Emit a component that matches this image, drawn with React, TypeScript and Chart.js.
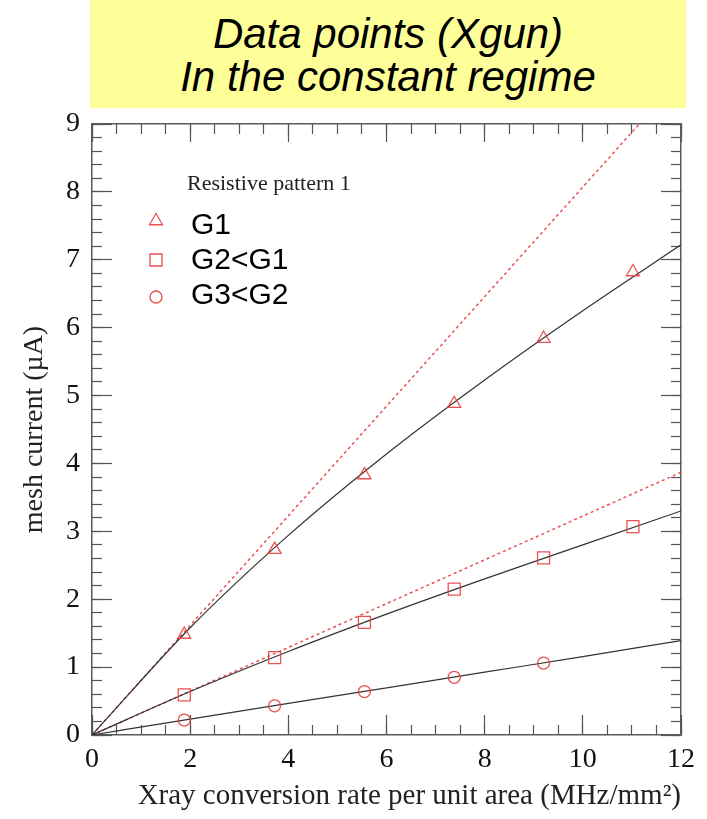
import React, { useEffect, useRef } from 'react';
import { Chart, registerables } from 'chart.js';

Chart.register(...registerables);

// ---- data ----
const xRate = [1.88, 3.72, 5.55, 7.38, 9.2, 11.02];
const g1Current = [1.48, 2.73, 3.83, 4.88, 5.84, 6.82];
const g2Current = [0.59, 1.14, 1.66, 2.15, 2.61, 3.07];
const g3Current = [0.22, 0.43, 0.64, 0.85, 1.06];

const fitX = [0, 2, 4, 6, 8, 10, 12];
const g1Fit = [0, 1.58, 2.94, 4.14, 5.23, 6.25, 7.22];
const g2Fit = [0, 0.64, 1.23, 1.78, 2.3, 2.8, 3.3];
const g3Fit = [0, 0.235, 0.465, 0.695, 0.925, 1.155, 1.39];

const idealG1X = [0, 11.15];
const idealG1Y = [0, 9];
const idealG2X = [0, 12];
const idealG2Y = [0, 3.87];

const legendHeading = 'Resistive pattern 1';
const legendLabels = ['G1', 'G2<G1', 'G3<G2'];
const legendShapes = ['triangle', 'rect', 'circle'];

const titleLines = ['Data points (Xgun)', 'In the constant regime'];
const xTitle = 'Xray conversion rate per unit area (MHz/mm²)';
const yTitle = 'mesh current (µA)';

const xMin = 0, xMax = 12, xMajor = 2, xMinor = 0.5;
const yMin = 0, yMax = 9, yMajor = 1, yMinor = 0.2;

const RED = 'rgba(232,62,62,0.9)';
const FRAME = '#5a5a5a';
const TICK = '#555';

const pts = (xs: number[], ys: number[]) => ys.map((y, i) => ({ x: xs[i], y }));

function drawMarker(ctx: CanvasRenderingContext2D, shape: string, x: number, y: number) {
  ctx.beginPath();
  if (shape === 'triangle') {
    const r = 7.5;
    ctx.moveTo(x, y - r);
    ctx.lineTo(x + r * Math.sin(Math.PI / 3), y + r / 2);
    ctx.lineTo(x - r * Math.sin(Math.PI / 3), y + r / 2);
    ctx.closePath();
  } else if (shape === 'rect') {
    ctx.rect(x - 6, y - 6, 12, 12);
  } else {
    ctx.arc(x, y, 6, 0, Math.PI * 2);
  }
  ctx.stroke();
}

const legendPlugin = {
  id: 'patternLegend',
  afterDraw(chart: any) {
    const ctx: CanvasRenderingContext2D = chart.ctx;
    ctx.save();
    ctx.fillStyle = '#222';
    ctx.font = '22px "Liberation Serif"';
    ctx.textBaseline = 'alphabetic';
    ctx.textAlign = 'left';
    ctx.fillText(legendHeading, 187, 190);
    const markerY = [221, 260, 297];
    const textY = [226, 261, 296];
    ctx.strokeStyle = RED;
    ctx.lineWidth = 1.3;
    ctx.font = '30px "Liberation Sans"';
    ctx.fillStyle = '#000';
    ctx.textBaseline = 'middle';
    legendLabels.forEach((label, i) => {
      drawMarker(ctx, legendShapes[i], 156, markerY[i]);
      ctx.fillText(label, 191, textY[i]);
    });
    ctx.restore();
  },
};

const serif = (size: number) => ({ family: 'Liberation Serif', size });

function axis(position: string, axisName: string, min: number, max: number, step: number, tickLen: number, weight: number, size: number, extra: any = {}) {
  const horizontal = axisName === 'x';
  return {
    type: 'linear',
    axis: axisName,
    position,
    min,
    max,
    weight,
    ticks: { stepSize: step, display: false, ...(extra.ticks || {}) },
    grid: {
      drawOnChartArea: false,
      drawTicks: tickLen !== 0,
      tickLength: tickLen,
      tickColor: TICK,
      tickWidth: 1.2,
    },
    border: extra.border || { display: false },
    title: extra.title || { display: false },
    afterFit: (s: any) => {
      if (horizontal) s.height = size;
      else s.width = size;
    },
  };
}

export default function App() {
  const ref = useRef<HTMLCanvasElement | null>(null);

  useEffect(() => {
    if (!ref.current) return;
    const frameBorder = { display: true, color: FRAME, width: 1.5 };
    const markerBase = {
      pointBorderColor: RED,
      pointBackgroundColor: 'rgba(0,0,0,0)',
      pointBorderWidth: 1.3,
      xAxisID: 'x',
      yAxisID: 'y',
    };
    const chart = new Chart(ref.current, {
      type: 'scatter',
      data: {
        datasets: [
          { label: 'G1', data: pts(xRate, g1Current), pointStyle: 'triangle', pointRadius: 7.5, ...markerBase },
          { label: 'G2<G1', data: pts(xRate, g2Current), pointStyle: 'rect', pointRadius: 8.5, ...markerBase },
          { label: 'G3<G2', data: pts(xRate, g3Current), pointStyle: 'circle', pointRadius: 6, ...markerBase },
          ...[g1Fit, g2Fit, g3Fit].map((f, i) => ({
            label: 'fit ' + (i + 1),
            data: pts(fitX, f),
            showLine: true,
            pointRadius: 0,
            borderColor: '#333',
            borderWidth: 1.2,
            cubicInterpolationMode: 'monotone' as const,
            xAxisID: 'x',
            yAxisID: 'y',
          })),
          {
            label: 'ideal G1',
            data: pts(idealG1X, idealG1Y),
            showLine: true,
            pointRadius: 0,
            borderColor: RED,
            borderWidth: 1.5,
            borderDash: [3, 3],
            xAxisID: 'x',
            yAxisID: 'y',
          },
          {
            label: 'ideal G2',
            data: pts(idealG2X, idealG2Y),
            showLine: true,
            pointRadius: 0,
            borderColor: RED,
            borderWidth: 1.5,
            borderDash: [3, 3],
            xAxisID: 'x',
            yAxisID: 'y',
          },
        ],
      },
      options: {
        animation: false,
        responsive: false,
        devicePixelRatio: 1,
        layout: { padding: 0 },
        plugins: {
          legend: { display: false },
          tooltip: { enabled: false },
        },
        scales: {
          x: axis('bottom', 'x', xMin, xMax, xMajor, 0, 2, 84, {
            ticks: { display: true, font: serif(28), color: '#111', padding: 8 },
            border: frameBorder,
            title: {
              display: true,
              text: xTitle,
              align: 'end',
              font: serif(29),
              color: '#222',
              padding: { top: 0, bottom: 5 },
            },
          }),
          xMajorBottom: axis('bottom', 'x', xMin, xMax, xMajor, -20, 1, 0),
          xMinorBottom: axis('bottom', 'x', xMin, xMax, xMinor, -10, 0, 0),
          xTop: axis('top', 'x', xMin, xMax, xMajor, -18, 2, 124, { border: frameBorder }),
          xMinorTop: axis('top', 'x', xMin, xMax, xMinor, -10, 0, 0),
          y: axis('left', 'y', yMin, yMax, yMajor, 0, 2, 92, {
            ticks: { display: true, font: serif(28), color: '#111', padding: 12 },
            border: frameBorder,
            title: {
              display: true,
              text: yTitle,
              font: serif(28),
              color: '#222',
              padding: { top: 18, bottom: 0 },
            },
          }),
          yMajorLeft: axis('left', 'y', yMin, yMax, yMajor, -20, 1, 0),
          yMinorLeft: axis('left', 'y', yMin, yMax, yMinor, -10, 0, 0),
          yRight: axis('right', 'y', yMin, yMax, yMajor, -20, 2, 26, { border: frameBorder }),
          yMinorRight: axis('right', 'y', yMin, yMax, yMinor, -10, 0, 0),
        } as any,
      },
      plugins: [legendPlugin],
    } as any);
    return () => chart.destroy();
  }, []);

  return (
    <div style={{ position: 'fixed', left: 0, top: 0, width: 707, height: 819, background: '#fff' }}>
      <canvas ref={ref} width={707} height={819} style={{ position: 'absolute', left: 0, top: 0, width: 707, height: 819 }} />
      <div
        style={{
          position: 'absolute',
          left: 90,
          top: 0,
          width: 596,
          height: 108,
          background: '#ffff99',
          fontFamily: '"Liberation Sans", Arial, sans-serif',
          fontStyle: 'italic',
          fontSize: 42,
          lineHeight: '43px',
          textAlign: 'center',
          color: '#000',
          paddingTop: 12,
          boxSizing: 'border-box',
        }}
      >
        {titleLines.map((t) => (
          <div key={t}>{t}</div>
        ))}
      </div>
    </div>
  );
}
